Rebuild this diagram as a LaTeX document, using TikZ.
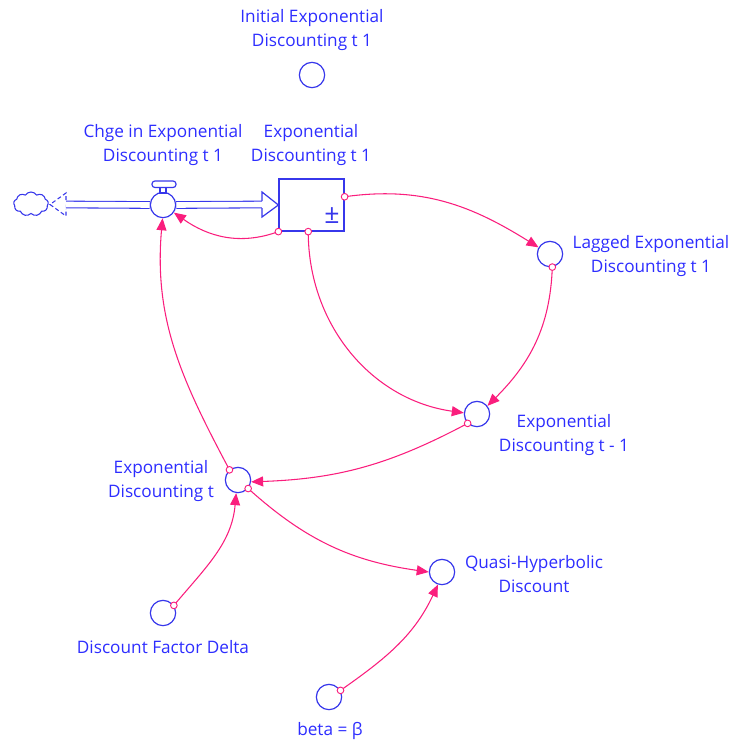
\documentclass[tikz,border=0pt]{standalone}
\usepackage{fontspec}
\setmainfont{Open Sans}
\usetikzlibrary{arrows.meta,shapes.symbols}
\definecolor{aux}{RGB}{55,55,235}
\definecolor{lbl}{RGB}{45,45,255}
\definecolor{lnk}{RGB}{250,30,125}
\begin{document}
\begin{tikzpicture}[x=0.75pt,y=-0.75pt,
  conv/.style={circle,draw=aux,line width=0.9pt,minimum size=19pt,inner sep=0pt},
  lab/.style={text=lbl,font=\fontsize{12.9}{18}\selectfont,align=center,inner sep=0pt},
  link/.style={draw=lnk,line width=0.8pt,-{Triangle[length=9pt,width=7.5pt]}},
  mk/.style={circle,draw=lnk,fill=white,line width=0.7pt,minimum size=5pt,inner sep=0pt},
  pipe/.style={draw=aux,line width=0.8pt,double=white,double distance=4.2pt},
]
\useasboundingbox (0,0) rectangle (733,743);

% stock and flow
\node[draw=aux,line width=0.9pt,minimum width=48.75pt,minimum height=39pt,inner sep=0pt] (stock) at (311.5,205) {};
\node[text=aux,font=\fontsize{20}{22}\selectfont,inner sep=0pt] (pm) at (332,216) {±};
\node[cloud,cloud puffs=9,cloud puff arc=115,aspect=1.45,draw=aux,line width=0.8pt,minimum width=26pt,minimum height=18pt,inner sep=0pt] (src) at (31,204) {};
\node[conv] (valve) at (163,205) {};

\draw[pipe] (66,204.5) -- (valve.west);
\draw[pipe] (valve.east) -- (262,204.5);
\draw[aux,line width=0.9pt,fill=white,line join=miter]
  (262,201) -- (262,192) -- (stock.west) -- (262,217) -- (262,208);
\draw[aux,line width=0.8pt,dash pattern=on 3pt off 2pt]
  (66,200) -- (66,193) -- (50,204.5) -- (66,216) -- (66,209);
% valve handle
\draw[aux,line width=0.9pt,fill=white] (160,187) rectangle (166,193);
\draw[aux,line width=0.9pt,fill=white,rounded corners=2.2pt] (152,181) rectangle (176,187.5);

% auxiliaries
\node[conv] (init) at (312,75) {};
\node[conv] (lag) at (550,254) {};
\node[conv] (etm1) at (477,414) {};
\node[conv] (et) at (238,480) {};
\node[conv] (delta) at (163,613) {};
\node[conv] (qh) at (442,572) {};
\node[conv] (beta) at (329,697) {};

% labels
\node[lab] (init-l) at (312,30) {Initial Exponential\\Discounting t 1};
\node[lab] (valve-l) at (163,145) {Chge in Exponential\\Discounting t 1};
\node[lab] (stock-l) at (311,145) {Exponential\\Discounting t 1};
\node[lab] (lag-l) at (651,256) {Lagged Exponential\\Discounting t 1};
\node[lab] (etm1-l) at (564,435) {Exponential\\Discounting t - 1};
\node[lab] (et-l) at (161,481.5) {Exponential\\Discounting t};
\node[lab] (qh-l) at (534,574) {Quasi-Hyperbolic\\Discount};
\node[lab] (delta-l) at (163,647) {Discount Factor Delta};
\node[lab] (beta-l) at (330,731) {beta = β};

% links
\draw[link] (stock.south west) to[out=200,in=-35] (valve.-35);
\draw[link] (stock.14) to[out=8,in=148] (lag.150);
\draw[link] (stock.-97) to[out=-90,in=172] (etm1.175);
\draw[link] (lag.-80) to[out=-92,in=45] (etm1.38);
\draw[link] (etm1.-135) to[out=208,in=2] (et.-8);
\draw[link] (et.130) to[out=118,in=-95] (valve.-92);
\draw[link] (et.-40) to[out=-42,in=172] (qh.180);
\draw[link] (delta.35) to[out=50,in=-95] (et.-98);
\draw[link] (beta.30) to[out=35,in=-115] (qh.-108);

% link origins
\node[mk] (o1) at (stock.south west) {};
\node[mk] (o2) at (stock.14) {};
\node[mk] (o3) at (stock.-97) {};
\node[mk] (o4) at (lag.-80) {};
\node[mk] (o5) at (etm1.-135) {};
\node[mk] (o6) at (et.130) {};
\node[mk] (o7) at (et.-40) {};
\node[mk] (o8) at (delta.35) {};
\node[mk] (o9) at (beta.30) {};
\end{tikzpicture}
\end{document}
